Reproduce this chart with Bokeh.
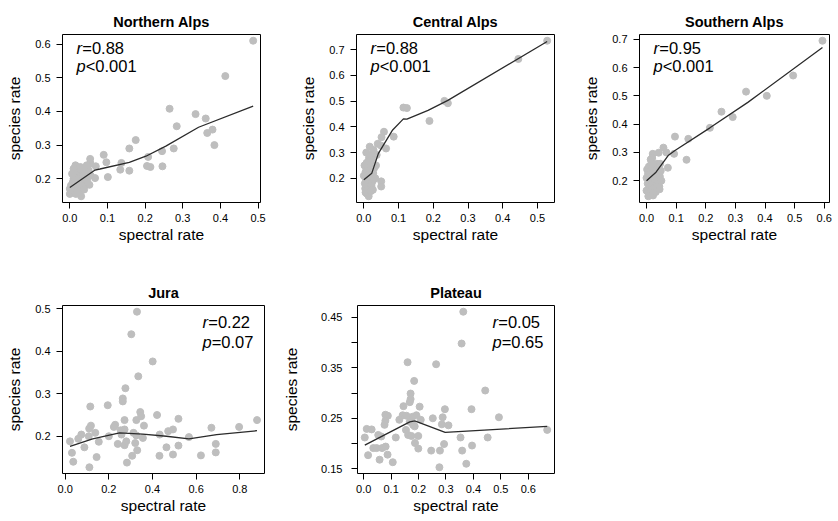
from bokeh.plotting import figure
from bokeh.models import FixedTicker, Label, PrintfTickFormatter, Range1d
from bokeh.layouts import row, column
from bokeh.embed import file_html
from bokeh.resources import INLINE

FONT = "Liberation Sans"

titles = ["Northern Alps", "Central Alps", "Southern Alps", "Jura", "Plateau"]
r_texts = ["=0.88", "=0.88", "=0.95", "=0.22", "=0.05"]
p_texts = ["<0.001", "<0.001", "<0.001", "=0.07", "=0.65"]

# ---- Northern Alps ----
na_x = [0.487, 0.413, 0.265, 0.334, 0.361, 0.284, 0.379, 0.365, 0.175, 0.384, 0.158, 0.276, 0.090, 0.245,
        0.208, 0.054, 0.097, 0.137, 0.055, 0.205, 0.214, 0.246, 0.134, 0.158, 0.101, 0.067, 0.046, 0.069,
        0.0, 0.0, 0.003, 0.005, 0.008, 0.010, 0.012, 0.013, 0.015, 0.017, 0.018, 0.020, 0.020, 0.022,
        0.024, 0.025, 0.027, 0.028, 0.030, 0.030, 0.032, 0.033, 0.035, 0.036, 0.038, 0.040, 0.042, 0.044,
        0.046, 0.050, 0.052, 0.055, 0.006, 0.010, 0.016, 0.025, 0.038, 0.045, 0.012, 0.028]
na_y = [0.610, 0.505, 0.408, 0.392, 0.379, 0.356, 0.346, 0.336, 0.315, 0.300, 0.290, 0.290, 0.271, 0.282,
        0.265, 0.259, 0.249, 0.247, 0.245, 0.238, 0.235, 0.237, 0.227, 0.224, 0.205, 0.202, 0.225, 0.237,
        0.155, 0.170, 0.180, 0.165, 0.190, 0.200, 0.175, 0.160, 0.240, 0.210, 0.185, 0.220, 0.195, 0.170,
        0.230, 0.205, 0.185, 0.215, 0.148, 0.200, 0.225, 0.178, 0.210, 0.190, 0.230, 0.200, 0.183, 0.215,
        0.195, 0.225, 0.182, 0.210, 0.215, 0.230, 0.155, 0.163, 0.168, 0.240, 0.198, 0.235]
na_fit_x = [0.0, 0.067, 0.080, 0.158, 0.202, 0.255, 0.342, 0.487]
na_fit_y = [0.174, 0.226, 0.229, 0.249, 0.267, 0.297, 0.353, 0.416]

# ---- Central Alps ----
ca_x = [0.528, 0.445, 0.232, 0.242, 0.114, 0.124, 0.189, 0.086, 0.058, 0.051, 0.040, 0.050, 0.064, 0.017,
        0.050, 0.050, 0.037,
        0.0, 0.002, 0.003, 0.004, 0.005, 0.006, 0.008, 0.009, 0.010, 0.011, 0.012, 0.013, 0.014, 0.015,
        0.016, 0.017, 0.018, 0.019, 0.020, 0.021, 0.022, 0.023, 0.024, 0.025, 0.026, 0.027, 0.028, 0.030,
        0.007, 0.013, 0.005, 0.020, 0.028, 0.033, 0.035]
ca_y = [0.735, 0.664, 0.501, 0.492, 0.475, 0.473, 0.423, 0.362, 0.381, 0.360, 0.334, 0.327, 0.316, 0.323,
        0.188, 0.168, 0.291,
        0.210, 0.250, 0.180, 0.160, 0.225, 0.195, 0.260, 0.140, 0.200, 0.175, 0.240, 0.215, 0.130, 0.280,
        0.190, 0.160, 0.255, 0.230, 0.205, 0.290, 0.170, 0.245, 0.185, 0.270, 0.155, 0.220, 0.195, 0.240,
        0.300, 0.265, 0.145, 0.150, 0.310, 0.200, 0.250]
ca_fit_x = [0.0, 0.023, 0.042, 0.083, 0.114, 0.124, 0.185, 0.242, 0.528]
ca_fit_y = [0.194, 0.220, 0.297, 0.388, 0.431, 0.430, 0.464, 0.503, 0.732]

# ---- Southern Alps ----
sa_x = [0.594, 0.495, 0.406, 0.336, 0.253, 0.291, 0.214, 0.096, 0.141, 0.135, 0.093, 0.057, 0.067, 0.072,
        0.041, 0.021, 0.019,
        0.0, 0.0, 0.002, 0.004, 0.005, 0.007, 0.008, 0.010, 0.011, 0.012, 0.013, 0.015, 0.016, 0.017,
        0.018, 0.020, 0.021, 0.022, 0.023, 0.025, 0.026, 0.027, 0.028, 0.030, 0.031, 0.032, 0.034, 0.035,
        0.036, 0.038, 0.040, 0.041, 0.043, 0.045, 0.046, 0.048, 0.050, 0.044, 0.006, 0.014]
sa_y = [0.695, 0.572, 0.500, 0.515, 0.444, 0.425, 0.387, 0.356, 0.348, 0.274, 0.295, 0.317, 0.300, 0.246,
        0.299, 0.295, 0.280,
        0.165, 0.210, 0.240, 0.190, 0.225, 0.200, 0.250, 0.180, 0.215, 0.155, 0.235, 0.200, 0.260, 0.170,
        0.225, 0.245, 0.190, 0.148, 0.210, 0.230, 0.175, 0.255, 0.200, 0.220, 0.160, 0.240, 0.185, 0.260,
        0.205, 0.225, 0.195, 0.245, 0.180, 0.215, 0.260, 0.235, 0.200, 0.170, 0.145, 0.275]
sa_fit_x = [0.0, 0.032, 0.073, 0.096, 0.214, 0.342, 0.594]
sa_fit_y = [0.200, 0.230, 0.289, 0.307, 0.387, 0.477, 0.671]

# ---- Jura ----
ju_x = [0.329, 0.303, 0.401, 0.335, 0.276, 0.264, 0.264, 0.115, 0.195, 0.344, 0.348, 0.421, 0.519, 0.879,
        0.272, 0.326, 0.361, 0.229, 0.223, 0.118, 0.110, 0.670, 0.797, 0.138, 0.254, 0.272, 0.313, 0.326,
        0.200, 0.074, 0.356, 0.433, 0.472, 0.494, 0.567, 0.022, 0.060, 0.154, 0.241, 0.272, 0.280, 0.321,
        0.519, 0.690, 0.088, 0.464, 0.031, 0.330, 0.690, 0.144, 0.307, 0.432, 0.494, 0.622, 0.037, 0.283,
        0.111, 0.108, 0.258]
ju_y = [0.493, 0.440, 0.376, 0.341, 0.313, 0.289, 0.282, 0.270, 0.273, 0.257, 0.247, 0.250, 0.241, 0.238,
        0.238, 0.238, 0.225, 0.227, 0.222, 0.225, 0.218, 0.220, 0.222, 0.208, 0.214, 0.216, 0.208, 0.202,
        0.200, 0.204, 0.196, 0.204, 0.212, 0.216, 0.198, 0.188, 0.194, 0.187, 0.182, 0.179, 0.188, 0.184,
        0.178, 0.182, 0.174, 0.174, 0.161, 0.167, 0.162, 0.151, 0.154, 0.154, 0.157, 0.155, 0.140, 0.138,
        0.127, 0.200, 0.204]
ju_fit_x = [0.022, 0.126, 0.249, 0.356, 0.464, 0.567, 0.694, 0.879]
ju_fit_y = [0.176, 0.194, 0.208, 0.205, 0.200, 0.194, 0.204, 0.213]

# ---- Plateau ----
pl_x = [0.363, 0.357, 0.160, 0.264, 0.184, 0.443, 0.171, 0.171, 0.168, 0.204, 0.145, 0.296, 0.393, 0.079,
        0.088, 0.142, 0.156, 0.178, 0.192, 0.130, 0.208, 0.252, 0.288, 0.493, 0.079, 0.076, 0.168, 0.180,
        0.186, 0.285, 0.309, 0.011, 0.029, 0.154, 0.162, 0.174, 0.199, 0.117, 0.669, 0.004, 0.053, 0.064,
        0.353, 0.452, 0.187, 0.199, 0.293, 0.395, 0.035, 0.047, 0.067, 0.080, 0.246, 0.278, 0.359, 0.016,
        0.087, 0.058, 0.106, 0.276, 0.374]
pl_y = [0.461, 0.398, 0.361, 0.357, 0.324, 0.305, 0.299, 0.288, 0.282, 0.273, 0.274, 0.268, 0.268, 0.257,
        0.255, 0.256, 0.255, 0.253, 0.256, 0.247, 0.247, 0.250, 0.252, 0.252, 0.245, 0.237, 0.243, 0.237,
        0.234, 0.238, 0.236, 0.229, 0.228, 0.227, 0.217, 0.215, 0.215, 0.212, 0.227, 0.212, 0.217, 0.214,
        0.212, 0.212, 0.201, 0.190, 0.199, 0.196, 0.191, 0.191, 0.191, 0.194, 0.186, 0.186, 0.186, 0.177,
        0.178, 0.168, 0.163, 0.153, 0.160]
pl_fit_x = [0.004, 0.168, 0.186, 0.297, 0.669]
pl_fit_y = [0.197, 0.243, 0.245, 0.222, 0.234]

# ---- ticks ----
na_xticks = [0.0, 0.1, 0.2, 0.3, 0.4, 0.5]
na_yticks = [0.2, 0.3, 0.4, 0.5, 0.6]
ca_xticks = [0.0, 0.1, 0.2, 0.3, 0.4, 0.5]
ca_yticks = [0.2, 0.3, 0.4, 0.5, 0.6, 0.7]
sa_xticks = [0.0, 0.1, 0.2, 0.3, 0.4, 0.5, 0.6]
sa_yticks = [0.2, 0.3, 0.4, 0.5, 0.6, 0.7]
ju_xticks = [0.0, 0.2, 0.4, 0.6, 0.8]
ju_yticks = [0.2, 0.3, 0.4, 0.5]
pl_xticks = [0.0, 0.1, 0.2, 0.3, 0.4, 0.5, 0.6]
pl_yticks = [0.15, 0.2, 0.25, 0.3, 0.35, 0.4, 0.45]
pl_yticks_unlabelled = [0.2, 0.3, 0.4]

POINT = "#bebebe"
LINE = "#2b2b2b"


def padded(vals):
    lo, hi = min(vals), max(vals)
    s = hi - lo
    return Range1d(lo - 0.04 * s, hi + 0.04 * s)


def panel(idx, xs, ys, fx, fy, xt, yt, yfmt, fw, bl, br, bb, corner, blank_ticks=(),
          ylab_standoff=9, ytick_standoff=6):
    xr = padded(xs)
    yr = padded(ys)
    p = figure(frame_width=fw, frame_height=168, x_range=xr, y_range=yr,
               output_backend="svg", toolbar_location=None,
               min_border_left=bl, min_border_right=br, min_border_top=34, min_border_bottom=bb,
               background_fill_color="white", border_fill_color="white",
               title=titles[idx])
    p.title.align = "center"
    p.title.text_font = FONT
    p.title.text_font_size = "14.5px"
    p.title.text_font_style = "bold"
    p.title.text_color = "black"
    p.title.standoff = 10
    p.outline_line_color = "black"
    p.outline_line_width = 1
    p.xgrid.visible = False
    p.ygrid.visible = False
    p.xaxis.ticker = FixedTicker(ticks=xt)
    p.yaxis.ticker = FixedTicker(ticks=yt)
    p.xaxis.formatter = PrintfTickFormatter(format="%.1f")
    p.yaxis.formatter = PrintfTickFormatter(format=yfmt)
    if blank_ticks:
        p.yaxis.major_label_overrides = {t: "" for t in blank_ticks}
    p.xaxis.axis_label = "spectral rate"
    p.yaxis.axis_label = "species rate"
    for ax in (p.xaxis, p.yaxis):
        ax.axis_line_color = None
        ax.major_tick_line_color = "black"
        ax.major_tick_out = 6
        ax.major_tick_in = 0
        ax.minor_tick_line_color = None
        ax.major_label_text_font = FONT
        ax.major_label_text_font_size = "11px"
        ax.major_label_text_color = "black"
        ax.axis_label_text_font = FONT
        ax.axis_label_text_font_size = "15.5px"
        ax.axis_label_text_font_style = "normal"
        ax.axis_label_text_color = "black"
    p.yaxis.major_label_standoff = ytick_standoff
    p.yaxis.axis_label_standoff = ylab_standoff
    p.xaxis.major_label_standoff = 5
    p.xaxis.axis_label_standoff = 1
    p.scatter(xs, ys, size=7, color=POINT, line_color=POINT)
    p.line(fx, fy, line_color=LINE, line_width=1.3)

    common = dict(text_font=FONT, text_font_size="16.5px", text_color="black",
                  text_baseline="middle", text_align="left")
    if corner == "left":
        x0, off, dy1, dy2 = xr.start, 14, -13.5, -31.5
    else:
        x0, off, dy1, dy2 = xr.end, -62, -16, -36
    p.add_layout(Label(x=x0, y=yr.end, x_offset=off, y_offset=dy1, text="r",
                       text_font_style="italic", **common))
    p.add_layout(Label(x=x0, y=yr.end, x_offset=off + 5.8, y_offset=dy1, text=r_texts[idx],
                       **common))
    p.add_layout(Label(x=x0, y=yr.end, x_offset=off, y_offset=dy2, text="p",
                       text_font_style="italic", **common))
    p.add_layout(Label(x=x0, y=yr.end, x_offset=off + 9.2, y_offset=dy2, text=p_texts[idx],
                       **common))
    return p


f1 = panel(0, na_x, na_y, na_fit_x, na_fit_y, na_xticks, na_yticks, "%.1f", 198, 62, 26, 69, "left")
f2 = panel(1, ca_x, ca_y, ca_fit_x, ca_fit_y, ca_xticks, ca_yticks, "%.1f", 198, 70, 15, 69, "left")
f3 = panel(2, sa_x, sa_y, sa_fit_x, sa_fit_y, sa_xticks, sa_yticks, "%.1f", 190, 70, 9, 69, "left")
f4 = panel(3, ju_x, ju_y, ju_fit_x, ju_fit_y, ju_xticks, ju_yticks, "%.1f", 202, 62, 13, 48, "right")
f5 = panel(4, pl_x, pl_y, pl_fit_x, pl_fit_y, pl_xticks, pl_yticks, "%.2f", 197, 80, 10, 48, "right",
           blank_ticks=pl_yticks_unlabelled, ylab_standoff=18, ytick_standoff=9)

layout = column(row(f1, f2, f3), row(f4, f5))
open("out.html", "w").write(file_html(layout, INLINE))
